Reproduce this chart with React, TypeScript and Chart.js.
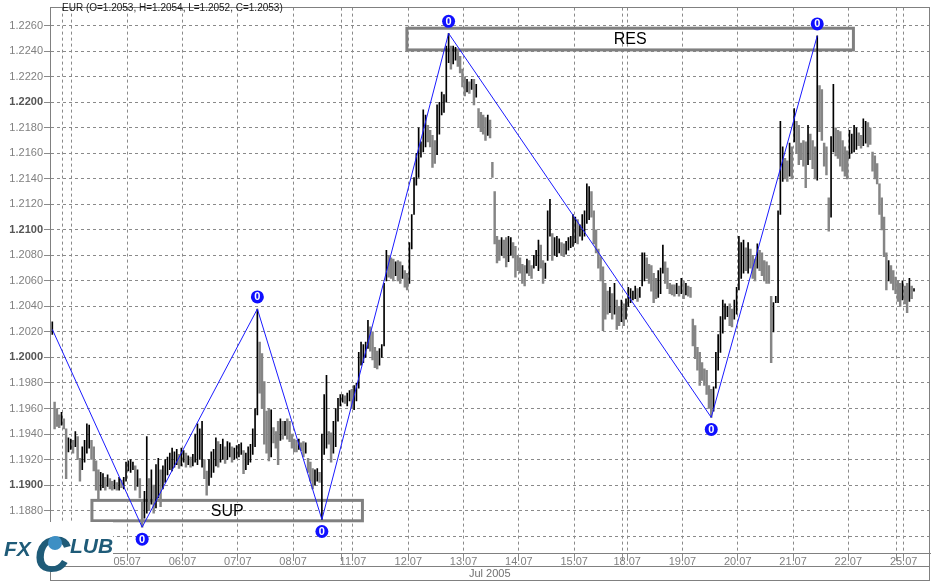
import React, { useEffect, useRef } from 'react';
import { Chart, registerables } from 'chart.js';

Chart.register(...registerables);

// ---- sessions (hourly bars per trading session) ----
const sessionLabels = ['', '', '04.07', '05.07', '06.07', '07.07', '08.07', '', '11.07', '12.07', '13.07', '14.07', '15.07', '', '18.07', '19.07', '20.07', '21.07', '22.07', '', '25.07'];
const sessionBars = [5, 4, 24, 24, 24, 24, 21, 5, 24, 24, 24, 24, 21, 2, 24, 24, 24, 24, 21, 3, 5];

// ---- hourly bar lows / highs (EUR) ----
const barLows = [
  1.2018, 1.1944, 1.1946, 1.1945, 1.1947,
  1.1944, 1.1905, 1.1926, 1.1928,
  1.1925, 1.1930, 1.1920, 1.1903, 1.1912, 1.1918, 1.1925, 1.1929, 1.1920, 1.1911, 1.1896, 1.1889, 1.1896, 1.1898, 1.1896, 1.1899, 1.1897, 1.1896, 1.1897, 1.1896, 1.1896, 1.1898, 1.1897, 1.1903,
  1.1911, 1.1910, 1.1912, 1.1896, 1.1899, 1.1890, 1.1867, 1.1874, 1.1878, 1.1880, 1.1885, 1.1878, 1.1882, 1.1890, 1.1883, 1.1897, 1.1902, 1.1908, 1.1912, 1.1911, 1.1914, 1.1916, 1.1913, 1.1915,
  1.1918, 1.1914, 1.1916, 1.1914, 1.1915, 1.1918, 1.1916, 1.1920, 1.1914, 1.1905, 1.1892, 1.1900, 1.1906, 1.1910, 1.1915, 1.1914, 1.1918, 1.1920, 1.1917, 1.1920, 1.1922, 1.1918, 1.1920, 1.1921,
  1.1922, 1.1924, 1.1909, 1.1912, 1.1916, 1.1918, 1.1924, 1.1930, 1.1955, 1.1972, 1.1960, 1.1932, 1.1925, 1.1919, 1.1922, 1.1933, 1.1929, 1.1916, 1.1935, 1.1936, 1.1939, 1.1936, 1.1934, 1.1929,
  1.1926, 1.1926, 1.1928, 1.1927, 1.1922, 1.1925, 1.1910, 1.1903, 1.1897, 1.1900, 1.1903, 1.1902, 1.1873, 1.1924, 1.1929, 1.1932, 1.1918, 1.1925, 1.1930, 1.1950, 1.1962,
  1.1965, 1.1964, 1.1962, 1.1966, 1.1960,
  1.1959, 1.1966, 1.1976, 1.1994, 1.1996, 1.2000, 1.2007, 1.2005, 1.1998, 1.1992, 1.1991, 1.1994, 1.2000, 1.2009, 1.2060, 1.2063, 1.2062, 1.2060, 1.2064, 1.2060, 1.2058, 1.2062, 1.2055, 1.2053,
  1.2058, 1.2085, 1.2112, 1.2135, 1.2141, 1.2157, 1.2161, 1.2165, 1.2169, 1.2165, 1.2149, 1.2152, 1.2159, 1.2175, 1.2190, 1.2192, 1.2200, 1.2231, 1.2226, 1.2230, 1.2233, 1.2228, 1.2223, 1.2212,
  1.2205, 1.2208, 1.2207, 1.2210, 1.2198, 1.2204, 1.2180, 1.2177, 1.2175, 1.2170, 1.2174, 1.2172, 1.2141, 1.2089, 1.2074, 1.2076, 1.2080, 1.2078, 1.2071, 1.2075, 1.2080, 1.2078, 1.2063, 1.2068,
  1.2066, 1.2058, 1.2056, 1.2066, 1.2064, 1.2062, 1.2070, 1.2072, 1.2068, 1.2070, 1.2058, 1.2062, 1.2076, 1.2095, 1.2076, 1.2080, 1.2079, 1.2082, 1.2080, 1.2079, 1.2081, 1.2084, 1.2086, 1.2087,
  1.2090, 1.2089, 1.2095, 1.2092, 1.2095, 1.2105, 1.2108, 1.2110, 1.2089, 1.2082, 1.2070, 1.2060, 1.2021, 1.2030, 1.2034, 1.2035, 1.2030, 1.2034, 1.2022, 1.2025, 1.2028,
  1.2025, 1.2030,
  1.2040, 1.2043, 1.2045, 1.2046, 1.2044, 1.2047, 1.2056, 1.2060, 1.2062, 1.2058, 1.2052, 1.2043, 1.2046, 1.2047, 1.2050, 1.2066, 1.2058, 1.2054, 1.2050, 1.2049, 1.2048, 1.2050, 1.2048, 1.2050,
  1.2046, 1.2049, 1.2048, 1.2047, 1.2009, 1.1999, 1.1990, 1.1978, 1.1982, 1.1978, 1.1971, 1.1960, 1.1953, 1.1958, 1.1976, 1.1990, 1.2004, 1.2019, 1.2030, 1.2032, 1.2025, 1.2024, 1.2030, 1.2034,
  1.2053, 1.2062, 1.2066, 1.2068, 1.2066, 1.2070, 1.2062, 1.2060, 1.2070, 1.2068, 1.2064, 1.2060, 1.2058, 1.2058, 1.1996, 1.2020, 1.2043, 1.2043, 1.2112, 1.2138, 1.2140, 1.2138, 1.2142, 1.2140,
  1.2169, 1.2160, 1.2151, 1.2155, 1.2150, 1.2133, 1.2151, 1.2155, 1.2148, 1.2140, 1.2139, 1.2177, 1.2170, 1.2150, 1.2143, 1.2099, 1.2110, 1.2161, 1.2158, 1.2156, 1.2150, 1.2146, 1.2142, 1.2140,
  1.2156, 1.2160, 1.2161, 1.2163, 1.2166, 1.2164, 1.2166, 1.2168, 1.2165, 1.2167, 1.2146, 1.2140, 1.2136, 1.2112, 1.2100, 1.2079, 1.2053, 1.2060, 1.2058, 1.2053, 1.2050,
  1.2044, 1.2040, 1.2045,
  1.2042, 1.2035, 1.2044, 1.2046, 1.2052,
];

const barHighs = [
  1.2028, 1.1965, 1.1960, 1.1955, 1.1957,
  1.1952, 1.1944, 1.1937, 1.1936,
  1.1935, 1.1942, 1.1938, 1.1921, 1.1930, 1.1935, 1.1948, 1.1947, 1.1935, 1.1930, 1.1919, 1.1912, 1.1910, 1.1909, 1.1906, 1.1908, 1.1905, 1.1903, 1.1904, 1.1902, 1.1906, 1.1904, 1.1906, 1.1918,
  1.1919, 1.1920, 1.1918, 1.1915, 1.1912, 1.1905, 1.1888, 1.1895, 1.1938, 1.1905, 1.1912, 1.1900, 1.1916, 1.1921, 1.1912, 1.1915, 1.1920, 1.1922, 1.1925, 1.1929, 1.1926, 1.1928, 1.1924, 1.1929,
  1.1927, 1.1925, 1.1923, 1.1922, 1.1924, 1.1940, 1.1948, 1.1944, 1.1950, 1.1920, 1.1911, 1.1920, 1.1926, 1.1928, 1.1937, 1.1934, 1.1932, 1.1936, 1.1930, 1.1934, 1.1933, 1.1930, 1.1929, 1.1931,
  1.1932, 1.1933, 1.1927, 1.1925, 1.1930, 1.1932, 1.1944, 1.1960, 1.2038, 1.2012, 1.2003, 1.1981, 1.1958, 1.1960, 1.1959, 1.1945, 1.1942, 1.1950, 1.1952, 1.1950, 1.1950, 1.1952, 1.1950, 1.1940,
  1.1936, 1.1935, 1.1936, 1.1933, 1.1934, 1.1933, 1.1921, 1.1918, 1.1913, 1.1912, 1.1913, 1.1910, 1.1940, 1.1971, 1.1986, 1.1942, 1.1941, 1.1950, 1.1960, 1.1968, 1.1971,
  1.1971, 1.1970, 1.1972, 1.1974, 1.1975,
  1.1978, 1.1980, 1.2004, 1.2012, 1.2010, 1.2012, 1.2029, 1.2024, 1.2020, 1.2008, 1.2005, 1.2007, 1.2010, 1.2058, 1.2084, 1.2080, 1.2078, 1.2077, 1.2075, 1.2076, 1.2075, 1.2072, 1.2068, 1.2066,
  1.2090, 1.2112, 1.2141, 1.2160, 1.2180, 1.2169, 1.2194, 1.2190, 1.2182, 1.2178, 1.2174, 1.2170, 1.2198, 1.2200, 1.2208, 1.2206, 1.2244, 1.2254, 1.2244, 1.2244, 1.2243, 1.2240, 1.2236, 1.2226,
  1.2220, 1.2218, 1.2216, 1.2218, 1.2218, 1.2214, 1.2195, 1.2192, 1.2190, 1.2188, 1.2190, 1.2186, 1.2153, 1.2130, 1.2095, 1.2092, 1.2094, 1.2092, 1.2094, 1.2095, 1.2094, 1.2090, 1.2087, 1.2080,
  1.2078, 1.2073, 1.2072, 1.2077, 1.2076, 1.2072, 1.2080, 1.2084, 1.2092, 1.2088, 1.2076, 1.2074, 1.2115, 1.2124, 1.2097, 1.2094, 1.2095, 1.2093, 1.2090, 1.2089, 1.2091, 1.2094, 1.2095, 1.2112,
  1.2110, 1.2108, 1.2104, 1.2112, 1.2115, 1.2136, 1.2134, 1.2130, 1.2115, 1.2100, 1.2085, 1.2079, 1.2071, 1.2058, 1.2052, 1.2055, 1.2050, 1.2058, 1.2045, 1.2040, 1.2045,
  1.2042, 1.2046,
  1.2055, 1.2054, 1.2052, 1.2056, 1.2054, 1.2055, 1.2082, 1.2082, 1.2078, 1.2073, 1.2072, 1.2066, 1.2062, 1.2068, 1.2070, 1.2088, 1.2075, 1.2070, 1.2058, 1.2057, 1.2057, 1.2058, 1.2056, 1.2062,
  1.2060, 1.2058, 1.2056, 1.2055, 1.2030, 1.2025, 1.2008, 1.2004, 1.1996, 1.1991, 1.1990, 1.1978, 1.1975, 1.1977, 1.2004, 1.2018, 1.2032, 1.2045, 1.2042, 1.2040, 1.2042, 1.2038, 1.2045, 1.2055,
  1.2095, 1.2090, 1.2092, 1.2086, 1.2090, 1.2085, 1.2080, 1.2077, 1.2089, 1.2084, 1.2082, 1.2076, 1.2075, 1.2072, 1.2048, 1.2043, 1.2048, 1.2115, 1.2185, 1.2165, 1.2156, 1.2154, 1.2168, 1.2165,
  1.2195, 1.2185, 1.2182, 1.2168, 1.2170, 1.2169, 1.2182, 1.2175, 1.2170, 1.2165, 1.2252, 1.2213, 1.2210, 1.2168, 1.2165, 1.2125, 1.2173, 1.2214, 1.2180, 1.2178, 1.2177, 1.2170, 1.2165, 1.2162,
  1.2178, 1.2175, 1.2182, 1.2180, 1.2176, 1.2174, 1.2187, 1.2185, 1.2184, 1.2180, 1.2161, 1.2158, 1.2152, 1.2136, 1.2125, 1.2110, 1.2082, 1.2076, 1.2072, 1.2068, 1.2063,
  1.2060, 1.2058, 1.2060,
  1.2056, 1.2058, 1.2062, 1.2056, 1.2054,
];

// ---- zigzag swing points (bar index, price) ----
const zigzagBars = [0, 39, 89, 117, 172, 286, 332];
const zigzagPrices = [1.2022, 1.1867, 1.2038, 1.1873, 1.2254, 1.1953, 1.2252];

// ---- support / resistance zones: [fromBar, toBar, lowPrice, highPrice] ----
const supportZone = [17.2, 134.6, 1.1872, 1.1888];
const resistanceZone = [153.9, 347.7, 1.2241, 1.2258];

// ---- axis ticks ----
const yTickValues = [1.1860, 1.1880, 1.1900, 1.1920, 1.1940, 1.1960, 1.1980, 1.2000, 1.2020, 1.2040, 1.2060, 1.2080, 1.2100, 1.2120, 1.2140, 1.2160, 1.2180, 1.2200, 1.2220, 1.2240, 1.2260];
const headerText = 'EUR (O=1.2053, H=1.2054, L=1.2052, C=1.2053)';
const monthLabel = 'Jul 2005';

const FONT = '"Liberation Sans", Arial, Helvetica, sans-serif';
const GRID = '#8a8a8a';

const isMajor = (c: any) => {
  const v = c && c.tick ? c.tick.value : NaN;
  return Number.isFinite(v) && Math.abs(v * 100 - Math.round(v * 100)) < 1e-6;
};

export default function App() {
  const ref = useRef<HTMLCanvasElement | null>(null);

  useEffect(() => {
    document.body.style.margin = '0';
    const canvas = ref.current;
    if (!canvas) return;

    const xTicks: { value: number; label: string }[] = [];
    let start = 0;
    sessionBars.forEach((n, k) => {
      if (k > 0) xTicks.push({ value: start - 0.5, label: sessionLabels[k] });
      start += n;
    });

    const upBars: any[] = [];
    const downBars: any[] = [];
    barLows.forEach((lo, i) => {
      const hi = barHighs[i];
      const mid = (lo + hi) / 2;
      const prevMid = i > 0 ? (barLows[i - 1] + barHighs[i - 1]) / 2 : mid;
      const pt = { x: i, y: [lo, hi] };
      if (mid < prevMid) downBars.push(pt);
      else upBars.push(pt);
    });
    const zigzag = zigzagBars.map((b, k) => ({ x: b, y: zigzagPrices[k] }));

    const overlay = {
      id: 'overlay',
      beforeDatasetsDraw(chart: any) {
        const { ctx, scales } = chart;
        const x = scales.x, y = scales.y;
        const drawZone = (z: number[], label: string) => {
          const x0 = x.getPixelForValue(z[0]);
          const x1 = x.getPixelForValue(z[1]);
          const y0 = y.getPixelForValue(z[3]);
          const y1 = y.getPixelForValue(z[2]);
          ctx.save();
          ctx.strokeStyle = '#808080';
          ctx.lineWidth = 3;
          ctx.strokeRect(x0, y0, x1 - x0, y1 - y0);
          ctx.fillStyle = '#000';
          ctx.font = `16px ${FONT}`;
          ctx.textAlign = 'center';
          ctx.textBaseline = 'middle';
          ctx.fillText(label, (x0 + x1) / 2, (y0 + y1) / 2 + 1);
          ctx.restore();
        };
        drawZone(supportZone, 'SUP');
        drawZone(resistanceZone, 'RES');
      },
      afterDatasetsDraw(chart: any) {
        const { ctx, scales } = chart;
        const x = scales.x, y = scales.y;
        ctx.save();
        zigzag.forEach((p, k) => {
          if (k === 0) return;
          const isHigh = p.y > zigzag[k - 1].y;
          const px = x.getPixelForValue(p.x);
          const py = y.getPixelForValue(p.y) + (isHigh ? -12 : 12);
          ctx.beginPath();
          ctx.arc(px, py, 6.5, 0, Math.PI * 2);
          ctx.fillStyle = '#1010ff';
          ctx.fill();
          ctx.fillStyle = '#fff';
          ctx.font = `bold 11px ${FONT}`;
          ctx.textAlign = 'center';
          ctx.textBaseline = 'middle';
          ctx.fillText('0', px, py + 0.5);
        });
        ctx.restore();
      },
      afterDraw(chart: any) {
        const { ctx, chartArea: a } = chart;
        ctx.save();
        ctx.strokeStyle = '#808080';
        ctx.lineWidth = 1;
        ctx.strokeRect(Math.round(a.left) + 0.5, Math.round(a.top) - 0.5, Math.round(a.right - a.left) - 1, Math.round(a.bottom - a.top) + 1);
        ctx.strokeRect(Math.round(a.left) + 0.5, 566.5, Math.round(a.right - a.left) - 1, 14);
        ctx.beginPath();
        ctx.moveTo(a.right - 0.5, a.bottom);
        ctx.lineTo(a.right - 0.5, 581);
        ctx.stroke();
        ctx.fillStyle = '#1a1a1a';
        ctx.font = `10px ${FONT}`;
        ctx.textAlign = 'left';
        ctx.textBaseline = 'middle';
        ctx.fillText(headerText, 62, 8);
        ctx.fillStyle = '#707070';
        ctx.font = `11px ${FONT}`;
        ctx.fillText(monthLabel, 469, 574);
        // logo
        ctx.fillStyle = '#ffffff';
        ctx.fillRect(0, 522, 113, 44);
        ctx.fillStyle = '#1f5b78';
        ctx.font = `italic bold 21px ${FONT}`;
        ctx.textBaseline = 'alphabetic';
        ctx.fillText('FX', 4, 556);
        ctx.font = `italic bold 50px ${FONT}`;
        ctx.fillText('C', 34, 572);
        ctx.beginPath();
        ctx.arc(55, 543, 7, 0, Math.PI * 2);
        ctx.fillStyle = '#3d8fc4';
        ctx.fill();
        ctx.fillStyle = '#1f5b78';
        ctx.font = `italic bold 21px ${FONT}`;
        ctx.fillText('LUB', 70, 553);
        ctx.restore();
      },
    };

    const chart = new Chart(canvas, {
      type: 'bar',
      data: {
        datasets: [
          { type: 'line', data: zigzag, borderColor: '#1a1aff', borderWidth: 1, pointRadius: 0, tension: 0, order: 0 } as any,
          { type: 'bar', data: upBars, backgroundColor: '#000000', barThickness: 1, grouped: false, borderWidth: 0, order: 1 } as any,
          { type: 'bar', data: downBars, backgroundColor: '#858585', barThickness: 1.8, grouped: false, borderWidth: 0, order: 2 } as any,
        ],
      },
      options: {
        animation: false,
        responsive: false,
        maintainAspectRatio: false,
        layout: { padding: { top: 1, right: 10, left: 0, bottom: 0 } },
        plugins: { legend: { display: false }, tooltip: { enabled: false } },
        scales: {
          x: {
            type: 'linear',
            min: -1,
            max: 380.94,
            offset: false,
            afterBuildTicks: (s: any) => {
              s.ticks = xTicks.map((t) => ({ value: t.value }));
            },
            afterFit: (s: any) => {
              s.height = 29;
            },
            grid: { color: GRID, lineWidth: 1, tickLength: 8, offset: false, tickColor: GRID },
            border: { display: true, color: '#808080', dash: [3, 3] },
            ticks: {
              autoSkip: false,
              maxRotation: 0,
              padding: -6,
              color: '#808080',
              font: { family: FONT, size: 11 },
              callback: (v: any) => {
                const t = xTicks.find((tt) => Math.abs(tt.value - v) < 1e-6);
                return t ? t.label : '';
              },
            },
          },
          y: {
            type: 'linear',
            min: 1.184676,
            max: 1.227417,
            afterBuildTicks: (s: any) => {
              s.ticks = yTickValues.map((v) => ({ value: v }));
            },
            afterFit: (s: any) => {
              s.width = 50;
            },
            grid: { color: GRID, lineWidth: 1, tickLength: 6, tickColor: GRID },
            border: { display: true, color: '#808080', dash: [3, 3] },
            ticks: {
              padding: 1,
              color: (c: any) => (isMajor(c) ? '#555555' : '#808080'),
              font: (c: any) => ({ family: FONT, size: 11, weight: isMajor(c) ? 'bold' : 'normal' }),
              callback: (v: any) => Number(v).toFixed(4),
            },
          },
        },
      } as any,
      plugins: [overlay],
    });

    return () => chart.destroy();
  }, []);

  return (
    <div style={{ width: 940, height: 582, background: '#fff' }}>
      <canvas ref={ref} width={940} height={582} style={{ display: 'block' }} />
    </div>
  );
}
